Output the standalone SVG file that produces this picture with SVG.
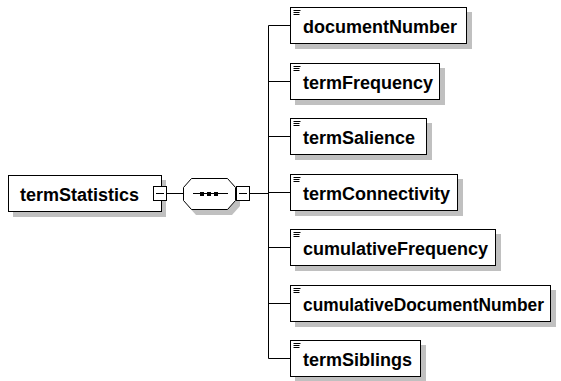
<svg xmlns="http://www.w3.org/2000/svg" width="561" height="381" viewBox="0 0 561 381">
<defs>
<style>
.bx{fill:#fff;stroke:#000;stroke-width:1}
.sh{fill:#c0c0c0}
.ln{stroke:#000;stroke-width:1;fill:none}
.t{font-family:"Liberation Sans",Arial,sans-serif;font-weight:bold;font-size:18px;fill:#000}
</style>
<g id="ic"><path class="ln" d="M3.5 3.5H10.5M3.5 5.5H9.5M3.5 7.5H9.5"/></g>
</defs>
<rect width="561" height="381" fill="#fff"/>
<g id="connectors">
<path class="ln" d="M167 193.5H183M250 193.5H268.5M268.5 25.5V358.5M268.5 25.5H290M268.5 81.5H290M268.5 136.5H290M268.5 192.5H290M268.5 247.5H290M268.5 303.5H290M268.5 358.5H290"/>
</g>
<g id="termStatistics">
<rect class="sh" x="13" y="180" width="153" height="37"/>
<rect class="bx" x="8.5" y="175.5" width="153" height="36"/>
<text class="t" x="20" y="201">termStatistics</text>
<rect class="bx" x="153.5" y="186.5" width="13" height="14"/>
<path class="ln" d="M156 193.5H164"/>
</g>
<g id="sequence">
<polygon class="sh" points="196,183 232,183 240,192 240,206 232,215 196,215 188,206 188,192"/>
<polygon class="bx" points="191.5,178.5 227.5,178.5 235.5,187.5 235.5,200.5 227.5,209.5 191.5,209.5 183.5,200.5 183.5,187.5"/>
<path class="ln" d="M193 193.5H228"/>
<rect x="200" y="192" width="4" height="4" fill="#000"/>
<rect x="207" y="192" width="4" height="4" fill="#000"/>
<rect x="214" y="192" width="4" height="4" fill="#000"/>
<rect class="bx" x="236.5" y="186.5" width="13" height="14"/>
<path class="ln" d="M239 193.5H247"/>
</g>
<g id="documentNumber">
<rect class="sh" x="295" y="12" width="177" height="37"/>
<rect class="bx" x="290.5" y="7.5" width="176" height="36"/>
<use href="#ic" x="290" y="7"/>
<text class="t" x="303" y="33">documentNumber</text>
</g>
<g id="termFrequency">
<rect class="sh" x="295" y="68" width="150" height="37"/>
<rect class="bx" x="290.5" y="63.5" width="149" height="36"/>
<use href="#ic" x="290" y="63"/>
<text class="t" x="303" y="89">termFrequency</text>
</g>
<g id="termSalience">
<rect class="sh" x="295" y="123" width="137" height="37"/>
<rect class="bx" x="290.5" y="118.5" width="136" height="36"/>
<use href="#ic" x="290" y="118"/>
<text class="t" x="303" y="144">termSalience</text>
</g>
<g id="termConnectivity">
<rect class="sh" x="295" y="179" width="168" height="37"/>
<rect class="bx" x="290.5" y="174.5" width="167" height="36"/>
<use href="#ic" x="290" y="174"/>
<text class="t" x="303" y="200">termConnectivity</text>
</g>
<g id="cumulativeFrequency">
<rect class="sh" x="295" y="234" width="206" height="37"/>
<rect class="bx" x="290.5" y="229.5" width="205" height="36"/>
<use href="#ic" x="290" y="229"/>
<text class="t" x="303" y="255">cumulativeFrequency</text>
</g>
<g id="cumulativeDocumentNumber">
<rect class="sh" x="295" y="290" width="261" height="37"/>
<rect class="bx" x="290.5" y="285.5" width="260" height="36"/>
<use href="#ic" x="290" y="285"/>
<text class="t" x="303" y="311" textLength="241" lengthAdjust="spacingAndGlyphs">cumulativeDocumentNumber</text>
</g>
<g id="termSiblings">
<rect class="sh" x="295" y="345" width="131" height="37"/>
<rect class="bx" x="290.5" y="340.5" width="130" height="36"/>
<use href="#ic" x="290" y="340"/>
<text class="t" x="303" y="366">termSiblings</text>
</g>
</svg>
